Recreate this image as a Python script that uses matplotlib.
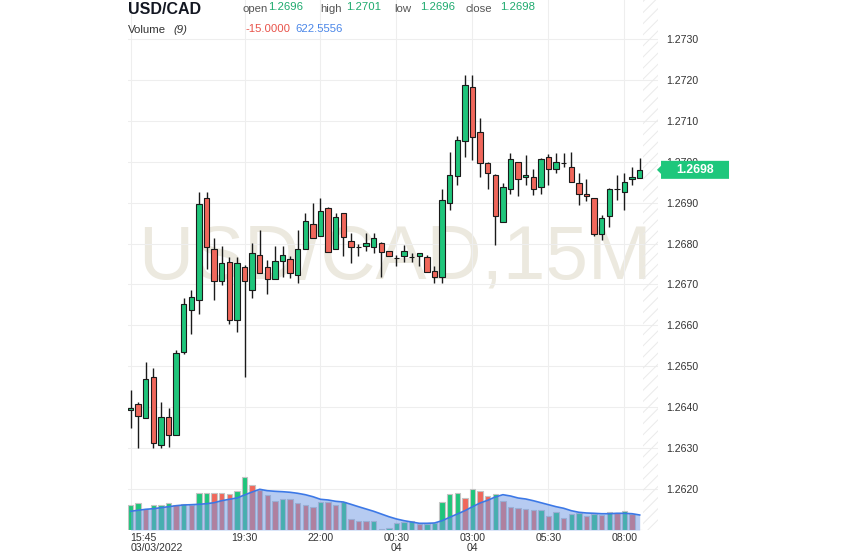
import numpy as np
import matplotlib.pyplot as plt
import matplotlib.transforms as mtransforms
from matplotlib.patches import Polygon

plt.rcParams['font.family'] = ['Liberation Sans', 'DejaVu Sans']
plt.rcParams['hatch.linewidth'] = 0.7

# USD/CAD 15 minute candles, 03/03/2022 15:45 -> 04/03 08:30
opens = [1.26393, 1.26408, 1.26374, 1.26474, 1.26308, 1.26376, 1.26332, 1.26535, 1.26638, 1.26662,
         1.26911, 1.26787, 1.26708, 1.26755, 1.26613, 1.26743, 1.26686, 1.26772, 1.26743, 1.26713,
         1.26757, 1.26762, 1.26723, 1.26787, 1.26848, 1.26818, 1.26887, 1.26787, 1.26875, 1.26806,
         1.26792, 1.26794, 1.26792, 1.26801, 1.26782, 1.26765, 1.26770, 1.26767, 1.26770, 1.26767,
         1.26733, 1.26718, 1.26899, 1.26965, 1.27051, 1.27183, 1.27073, 1.26997, 1.26968, 1.26853,
         1.26933, 1.26999, 1.26963, 1.26963, 1.26938, 1.27012, 1.26982, 1.26997, 1.26987, 1.26948,
         1.26921, 1.26911, 1.26823, 1.26867, 1.26933, 1.26926, 1.26958, 1.2696]
highs = [1.26442, 1.26412, 1.26510, 1.26496, 1.26413, 1.26398, 1.26540, 1.26667, 1.26686, 1.26926,
         1.26926, 1.26814, 1.26794, 1.26767, 1.26767, 1.26748, 1.26801, 1.26833, 1.26760, 1.26794,
         1.26794, 1.26770, 1.26833, 1.26875, 1.26899, 1.26911, 1.26890, 1.26875, 1.26875, 1.26826,
         1.26799, 1.26826, 1.26826, 1.26804, 1.26782, 1.26772, 1.26797, 1.26777, 1.26777, 1.26772,
         1.26745, 1.26933, 1.27024, 1.27063, 1.27212, 1.27212, 1.27107, 1.27000, 1.26970, 1.26948,
         1.27021, 1.27000, 1.27016, 1.26982, 1.27010, 1.27019, 1.27021, 1.27021, 1.27024, 1.26972,
         1.26958, 1.26911, 1.26870, 1.26935, 1.26968, 1.26972, 1.26987, 1.2701]
lows = [1.26349, 1.26300, 1.26374, 1.26300, 1.26300, 1.26303, 1.26332, 1.26530, 1.26579, 1.26628,
        1.26738, 1.26662, 1.26699, 1.26603, 1.26584, 1.26474, 1.26667, 1.26728, 1.26677, 1.26713,
        1.26718, 1.26716, 1.26704, 1.26787, 1.26814, 1.26818, 1.26779, 1.26787, 1.26770, 1.26752,
        1.26770, 1.26782, 1.26777, 1.26718, 1.26770, 1.26745, 1.26755, 1.26755, 1.26745, 1.26730,
        1.26704, 1.26704, 1.26882, 1.26943, 1.27012, 1.27004, 1.26963, 1.26933, 1.26796, 1.26853,
        1.26921, 1.26916, 1.26943, 1.26919, 1.26921, 1.26943, 1.26972, 1.26987, 1.26950, 1.26894,
        1.26904, 1.26818, 1.26809, 1.26840, 1.26906, 1.26882, 1.26943, 1.2696]
closes = [1.26398, 1.26378, 1.26469, 1.26312, 1.26376, 1.26332, 1.26532, 1.26652, 1.26669, 1.26897,
          1.26792, 1.26708, 1.26752, 1.26613, 1.26752, 1.26708, 1.26777, 1.26728, 1.26713, 1.26757,
          1.26772, 1.26728, 1.26787, 1.26855, 1.26814, 1.26880, 1.26779, 1.26865, 1.26816, 1.26792,
          1.26792, 1.26801, 1.26814, 1.26779, 1.26770, 1.26765, 1.26782, 1.26767, 1.26777, 1.26730,
          1.26718, 1.26906, 1.26968, 1.27053, 1.27188, 1.27060, 1.26997, 1.26972, 1.26867, 1.26938,
          1.27007, 1.26958, 1.26968, 1.26933, 1.27007, 1.26982, 1.26999, 1.26997, 1.26950, 1.26921,
          1.26916, 1.26823, 1.26862, 1.26933, 1.26933, 1.26950, 1.26963, 1.2698]
volume = [1025, 1133, 884, 1050, 1058, 1133, 1050, 1062, 1025, 1523,
          1548, 1531, 1519, 1506, 1631, 2187, 1880, 1660, 1440, 1216,
          1299, 1287, 1108, 1050, 942, 1174, 1150, 1025, 1174, 469,
          386, 361, 386, 21, 71, 303, 332, 386, 249, 253,
          303, 1174, 1494, 1548, 1328, 1714, 1631, 1423, 1482, 1216,
          934, 925, 884, 818, 830, 593, 735, 510, 652, 718,
          593, 676, 623, 735, 693, 776, 652, -15]
volume_sma = [776, 818, 859, 884, 925, 967, 1008, 1038, 1050, 1067,
              1091, 1133, 1216, 1274, 1328, 1453, 1577, 1689, 1631, 1606,
              1589, 1565, 1523, 1465, 1382, 1274, 1245, 1191, 1162, 1067,
              967, 872, 776, 664, 552, 457, 386, 332, 278, 278,
              291, 386, 527, 664, 801, 967, 1121, 1233, 1370, 1465,
              1411, 1328, 1287, 1216, 1133, 1050, 967, 901, 801, 735,
              706, 693, 676, 676, 693, 693, 676, 622.5556]
tick_pos = [0, 15, 25, 35, 45, 55, 65]
tick_labels = ['15:45\n03/03/2022', '19:30', '22:00', '00:30\n04', '03:00\n04', '05:30', '08:00']

GREEN = '#1fc57b'
RED = '#f0675b'

W, H = 843, 558
fig = plt.figure(figsize=(W / 100, H / 100), dpi=100)
# plot area in pixels: x 128..658, y 0..530
ax = fig.add_axes([128 / W, 1 - 530 / H, 530 / W, 530 / H])

x = np.arange(len(opens))
o = np.array(opens)
h = np.array(highs)
l = np.array(lows)
c = np.array(closes)
xmin, xmax = -0.33, 69.41

# volume pane (drawn on a twin axis)
vax = ax.twinx()
ax.yaxis.tick_right()
vol = np.array(volume, dtype=float)
vcol = [GREEN] + [GREEN if vol[i] >= vol[i - 1] else RED for i in range(1, len(vol))]
vax.bar(x, vol, width=0.7, color=vcol, edgecolor='#c4c4c4', linewidth=0.8, zorder=2)
vax.fill_between(x, 0, volume_sma, color='#6f99e4', alpha=0.5, linewidth=0, zorder=3)
vax.plot(x, volume_sma, color='#3c78e6', lw=1.2, zorder=4)
vax.set_ylim(0, 21995)
vax.set_yticks([])
for s in vax.spines.values():
    s.set_visible(False)

# candles
ccol = [GREEN if c[i] >= o[i] else RED for i in range(len(c))]
ax.vlines(x, l, h, color='#1a1a1a', lw=1, zorder=3)
ax.bar(x, np.abs(c - o), bottom=np.minimum(o, c), width=0.7, color=ccol,
       edgecolor='#1a1a1a', linewidth=0.8, zorder=4)

ax.set_xlim(xmin, xmax)
ax.set_ylim(1.26100, 1.27395)

# watermark
ax.text(0.504, 0.511, 'USD/CAD,15M', transform=ax.transAxes, ha='center', va='center',
        fontsize=55, color='#ece9df', zorder=0.2)

# future (hatched) zone
ax.axvspan(67.5, xmax, facecolor='none', edgecolor='#eaeaea', hatch='///', lw=0, zorder=1)

ax.grid(True, color='#eeeeee', lw=0.8)
ax.set_axisbelow(True)
for s in ax.spines.values():
    s.set_visible(False)

ax.set_yticks(np.arange(1.2620, 1.27301, 0.001))
ax.yaxis.set_major_formatter(plt.FormatStrFormatter('%.4f'))
ax.tick_params(axis='y', length=0, pad=5.8, labelsize=7.6, labelcolor='#333333')
ax.set_xticks(tick_pos, tick_labels)
ax.tick_params(axis='x', length=0, pad=2.2, labelsize=7.6, labelcolor='#333333')
for i, lab in enumerate(ax.get_xticklabels()):
    lab.set_linespacing(1.0)
    if i == 0:
        lab.set_horizontalalignment('left')

# last price marker on the right
trans = mtransforms.blended_transform_factory(ax.transAxes, ax.transData)
last = c[-1]
dy = 9 / 40927
box = Polygon([(0.998, last), (1.0057, last + dy * 0.45), (1.0057, last + dy), (1.134, last + dy),
               (1.134, last - dy), (1.0057, last - dy), (1.0057, last - dy * 0.45)],
              closed=True, transform=trans, facecolor='#1ec77c', edgecolor='none',
              clip_on=False, zorder=10)
ax.add_patch(box)
ax.text(1.070, last, f'{last:.4f}', transform=trans, ha='center', va='center', color='white',
        fontsize=8.8, fontweight='bold', zorder=11, clip_on=False)

# header
def px(xp, yp):
    return xp / W, 1 - yp / H

fig.text(*px(128, 9), 'USD/CAD', fontsize=11.5, fontweight='bold', color='#131722', va='center')
hdr = [('open', 242, opens[-1]), ('high', 320, highs[-1]), ('low', 394, lows[-1]), ('close', 465, closes[-1])]
for name, xp, val in hdr:
    fig.text(*px(xp, 9.5), name, fontsize=8.2, color='#555555', va='center')
    fig.text(*px(xp + 26 if name != 'close' else xp + 35, 7), f'{val:.4f}', fontsize=8.2,
             color='#1eaa6e', va='center')
fig.text(*px(128, 30), 'Volume', fontsize=8.2, color='#333333', va='center')
fig.text(*px(173, 30), '(9)', fontsize=8.2, color='#333333', style='italic', va='center')
fig.text(*px(246, 29), f'{volume[-1]:.4f}', fontsize=8.2, color='#e8534a', va='center')
fig.text(*px(295, 29), f'{volume_sma[-1]:.4f}', fontsize=8.2, color='#4a86e8', va='center')

fig.savefig('out.png', dpi=100)
